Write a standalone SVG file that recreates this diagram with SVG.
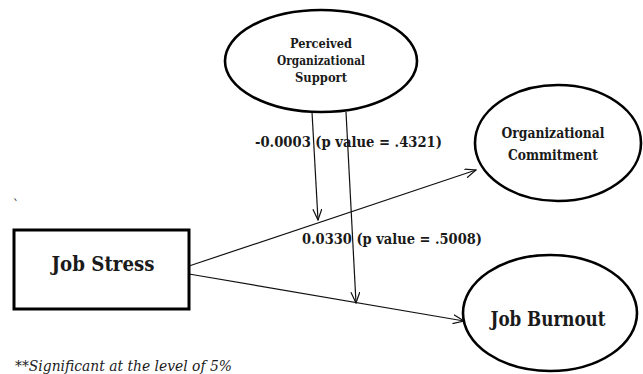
<svg xmlns="http://www.w3.org/2000/svg" width="643" height="374" viewBox="0 0 643 374">
<style>
.node{fill:#fff;stroke:#000;stroke-width:2.6}
text{font-family:'DejaVu Serif','Liberation Serif',serif;fill:#1a1a1a}
.t{font-weight:bold;text-anchor:middle}
.lbl{font-weight:bold;font-size:14px}
.conn{stroke:#111;stroke-width:1.2;fill:none}
</style>
<defs>
<marker id="arr" viewBox="0 0 12 10" refX="11" refY="5" markerWidth="12" markerHeight="10" markerUnits="userSpaceOnUse" orient="auto">
<path d="M0,0.5 L11,5 L0,9.5" fill="none" stroke="#111" stroke-width="1.2"/>
</marker>
</defs>
<rect width="643" height="374" fill="#fff"/>
<g id="connectors">
<line class="conn" x1="189" y1="266" x2="476" y2="170" marker-end="url(#arr)"/>
<line class="conn" x1="189" y1="274" x2="464" y2="321" marker-end="url(#arr)"/>
<line class="conn" x1="312" y1="112" x2="318" y2="220" marker-end="url(#arr)"/>
<line class="conn" x1="346" y1="112" x2="356" y2="303" marker-end="url(#arr)"/>
</g>
<g id="pos">
<ellipse class="node" cx="321" cy="61" rx="96" ry="51"/>
<text class="t" font-size="12.5" x="321" y="48" textLength="62" lengthAdjust="spacingAndGlyphs">Perceived</text>
<text class="t" font-size="12.5" x="321" y="65" textLength="88" lengthAdjust="spacingAndGlyphs">Organizational</text>
<text class="t" font-size="12.5" x="321" y="82" textLength="52" lengthAdjust="spacingAndGlyphs">Support</text>
</g>
<g id="oc">
<ellipse class="node" cx="558" cy="143" rx="83" ry="58"/>
<text class="t" font-size="14.5" x="553" y="138" textLength="103" lengthAdjust="spacingAndGlyphs">Organizational</text>
<text class="t" font-size="14.5" x="553" y="160" textLength="90" lengthAdjust="spacingAndGlyphs">Commitment</text>
</g>
<g id="js">
<rect x="14" y="230" width="175" height="79" fill="#fff" stroke="#000" stroke-width="3"/>
<text class="t" font-size="21" x="103" y="271" textLength="103" lengthAdjust="spacingAndGlyphs">Job Stress</text>
</g>
<g id="jb">
<ellipse class="node" cx="550" cy="313" rx="87" ry="58"/>
<text class="t" font-size="20" x="548" y="326" textLength="115" lengthAdjust="spacingAndGlyphs">Job Burnout</text>
</g>
<g id="labels">
<text class="lbl" x="255" y="147" textLength="187" lengthAdjust="spacingAndGlyphs">-0.0003 (p value = .4321)</text>
<text class="lbl" x="302" y="244" textLength="180" lengthAdjust="spacingAndGlyphs">0.0330 (p value = .5008)</text>
</g>
<text x="13" y="209" font-size="12" fill="#333">`</text>
<text x="15" y="371" font-style="italic" font-size="14" textLength="217" lengthAdjust="spacingAndGlyphs">**Significant at the level of 5%</text>
</svg>
